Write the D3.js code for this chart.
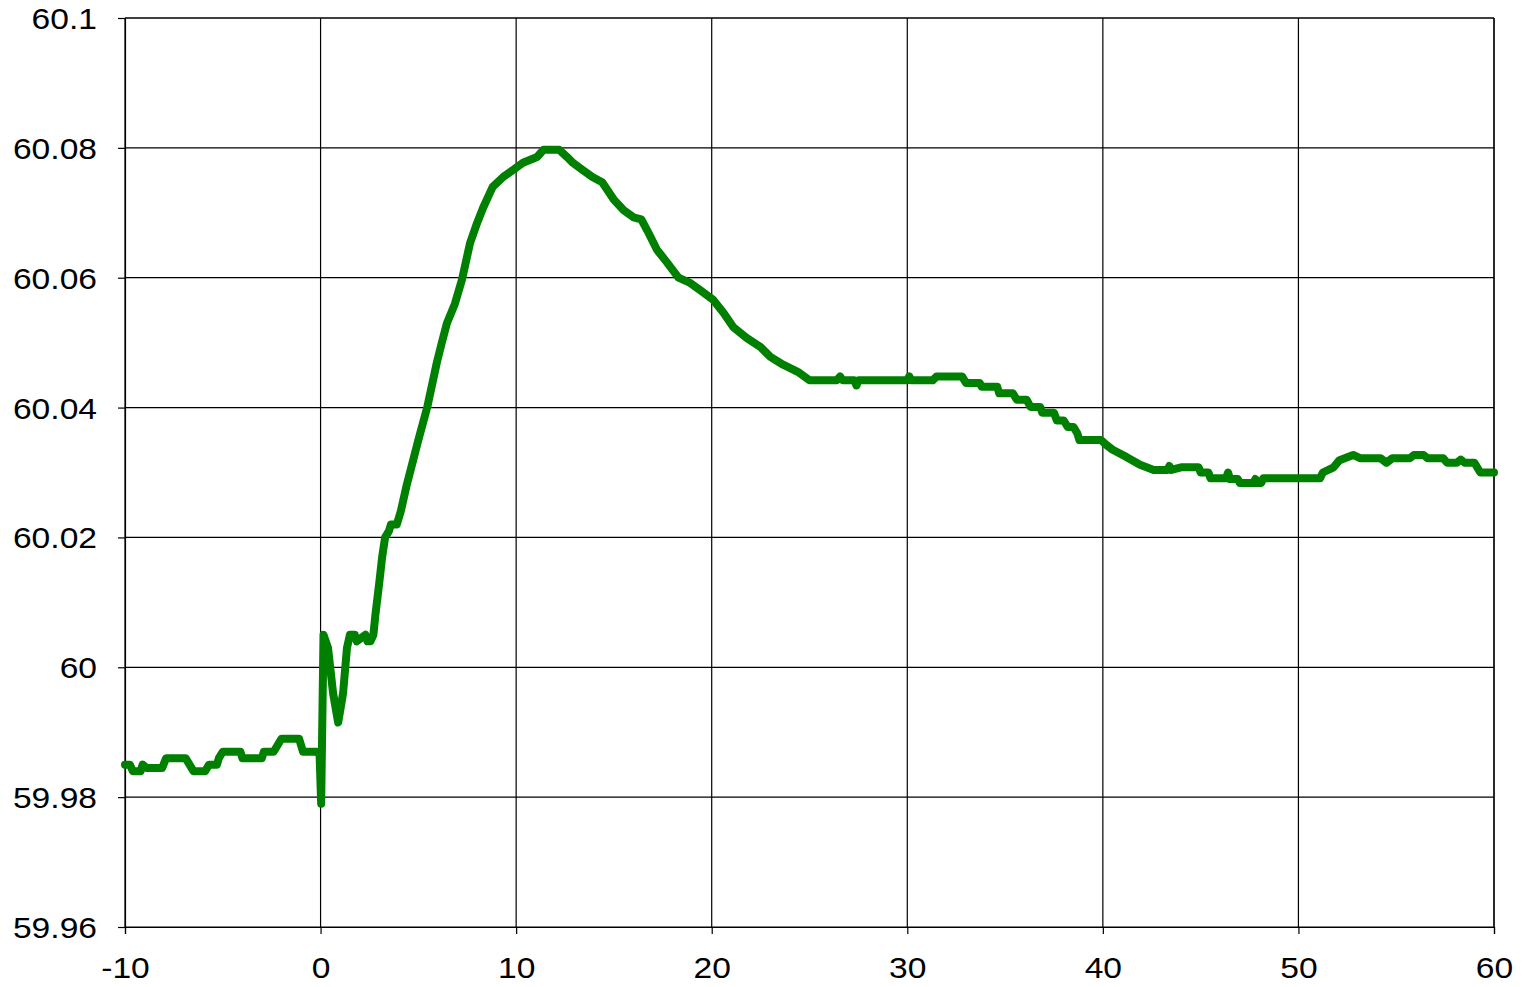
<!DOCTYPE html>
<html>
<head>
<meta charset="utf-8">
<script src="https://cdn.jsdelivr.net/npm/d3@7"></script>
<style>
  body { margin: 0; background: #fff; }
  text { font-family: "Liberation Sans", Arial, sans-serif; fill: #000; }
</style>
</head>
<body>
<svg id="chart" width="1526" height="987"></svg>
<script>
// tick values
const xTicks = [-10, 0, 10, 20, 30, 40, 50, 60];
const yTicks = [59.96, 59.98, 60, 60.02, 60.04, 60.06, 60.08, 60.1];

// time (s) and frequency (Hz)
const time = [
  -10, -9.75, -9.6, -9.2, -9.1, -8.9, -8.1, -7.9, -6.9, -6.7, -6.5, -5.9, -5.7, -5.3, -5.2, -5.0,
  -4.1, -4.0, -3.0, -2.9, -2.4, -2.2, -2.0, -1.1, -0.9, -0.2, -0.05, 0.03, 0.15, 0.38, 0.64, 0.9,
  1.15, 1.35, 1.5, 1.75, 1.85, 2.3, 2.4, 2.55, 2.7, 2.8, 3.0, 3.15, 3.3, 3.5, 3.6, 3.9, 4.1, 4.4,
  4.7, 5.0, 5.45, 5.95, 6.2, 6.46, 6.87, 7.23, 7.64, 8.0, 8.3, 8.8, 9.33, 9.84, 10.35, 11.07, 11.4,
  12.2, 12.6, 12.9, 13.4, 13.9, 14.4, 15.0, 15.5, 16.0, 16.4, 16.7, 17.2, 17.7, 18.3, 18.9, 19.4,
  20.07, 20.6, 21.1, 21.8, 22.5, 23.0, 23.65, 24.4, 25.0, 26.4, 26.56, 26.7, 27.3, 27.4, 27.5, 30.0,
  30.1, 30.2, 31.3, 31.5, 32.8, 33.0, 33.7, 33.8, 34.6, 34.7, 35.4, 35.6, 36.1, 36.3, 36.8, 36.9,
  37.5, 37.65, 38.0, 38.2, 38.5, 38.7, 38.8, 39.9, 40.2, 40.5, 41.2, 41.9, 42.6, 43.3, 43.4, 43.5,
  44.0, 44.9, 45.0, 45.4, 45.5, 46.3, 46.4, 46.5, 46.9, 47.0, 47.7, 47.8, 47.9, 48.1, 48.2, 51.1,
  51.25, 51.8, 52.1, 52.8, 53.15, 54.2, 54.5, 54.8, 55.7, 55.9, 56.4, 56.6, 57.4, 57.6, 58.1, 58.3,
  58.5, 59.0, 59.3, 60
];
const freq = [
  59.985, 59.985, 59.984, 59.984, 59.985, 59.9845, 59.9845, 59.986, 59.986, 59.985, 59.984, 59.984, 59.985, 59.985, 59.986, 59.987,
  59.987, 59.986, 59.986, 59.987, 59.987, 59.988, 59.989, 59.989, 59.987, 59.987, 59.9865, 59.979, 60.005, 60.003, 59.996, 59.9915,
  59.996, 60.003, 60.005, 60.005, 60.004, 60.005, 60.004, 60.004, 60.005, 60.008, 60.013, 60.017, 60.020, 60.021, 60.022, 60.022, 60.024, 60.028,
  60.0315, 60.035, 60.040, 60.047, 60.050, 60.053, 60.056, 60.0597, 60.0653, 60.0684, 60.0707, 60.074, 60.0755, 60.0766, 60.0777, 60.0786, 60.0797,
  60.0797, 60.0786, 60.0777, 60.0766, 60.0755, 60.0747, 60.072, 60.0704, 60.0693, 60.069, 60.0673, 60.0643, 60.0624, 60.060, 60.0592, 60.0581,
  60.0566, 60.0546, 60.0524, 60.0507, 60.0493, 60.0478, 60.0466, 60.0455, 60.0442, 60.0442, 60.0448, 60.0442, 60.0442, 60.0434, 60.0442, 60.0442,
  60.0448, 60.0442, 60.0442, 60.0448, 60.0448, 60.0438, 60.0438, 60.0432, 60.0432, 60.0422, 60.0422, 60.0412, 60.0412, 60.0401, 60.0401, 60.0392,
  60.0392, 60.038, 60.038, 60.037, 60.037, 60.036, 60.035, 60.035, 60.0342, 60.0335, 60.0324, 60.0312, 60.0304, 60.0304, 60.031, 60.0304,
  60.0308, 60.0308, 60.030, 60.030, 60.0291, 60.0291, 60.030, 60.029, 60.029, 60.0284, 60.0284, 60.029, 60.0284, 60.0284, 60.0291, 60.0291,
  60.030, 60.0308, 60.0319, 60.0327, 60.0322, 60.0322, 60.0315, 60.0322, 60.0322, 60.0327, 60.0327, 60.0322, 60.0322, 60.0315, 60.0315, 60.032,
  60.0315, 60.0315, 60.030, 60.030
];

const data = time.map((t, i) => ({ t: t, f: freq[i] }));

const plotL = 125, plotR = 1494, plotT = 18, plotB = 927;
const svg = d3.select('#chart');

const x = d3.scaleLinear().domain([-10, 60]).range([plotL, plotR]);
const y = d3.scaleLinear().domain([59.96, 60.1]).range([plotB, plotT]);

// grid
svg.append('g')
  .selectAll('line')
  .data(xTicks)
  .enter().append('line')
  .attr('x1', d => x(d)).attr('x2', d => x(d))
  .attr('y1', plotT).attr('y2', plotB)
  .attr('stroke', '#000').attr('stroke-width', 1.2);

svg.append('g')
  .selectAll('line')
  .data(yTicks)
  .enter().append('line')
  .attr('x1', plotL).attr('x2', plotR)
  .attr('y1', d => y(d)).attr('y2', d => y(d))
  .attr('stroke', '#000').attr('stroke-width', 1.2);

// axes
const yAxis = d3.axisLeft(y).tickValues(yTicks).tickSize(7).tickFormat(d => +d.toFixed(2) + '');
const xAxis = d3.axisBottom(x).tickValues(xTicks).tickSize(7).tickFormat(d => d + '');

const gy = svg.append('g').attr('transform', `translate(${plotL},0)`).call(yAxis);
const gx = svg.append('g').attr('transform', `translate(0,${plotB})`).call(xAxis);

[gx, gy].forEach(g => {
  g.select('.domain').attr('stroke', '#000').attr('stroke-width', 1.2);
  g.selectAll('.tick line').attr('stroke', '#000').attr('stroke-width', 1.2);
  g.selectAll('.tick text').remove();
});

// labels are a bit wider than plain Arial, so stretch them
gy.selectAll('.tick').append('text')
  .attr('text-anchor', 'end')
  .attr('font-size', 30)
  .attr('transform', 'translate(-28,10.5) scale(1.12,1)')
  .text(d => +d.toFixed(2) + '');

gx.selectAll('.tick').append('text')
  .attr('text-anchor', 'middle')
  .attr('font-size', 30)
  .attr('transform', 'translate(0,51) scale(1.12,1)')
  .text(d => d);

// frame top / right
svg.append('line').attr('x1', plotL).attr('x2', plotR).attr('y1', plotT).attr('y2', plotT)
  .attr('stroke', '#000').attr('stroke-width', 1.2);
svg.append('line').attr('x1', plotR).attr('x2', plotR).attr('y1', plotT).attr('y2', plotB)
  .attr('stroke', '#000').attr('stroke-width', 1.2);

// trace
const line = d3.line().x(d => x(d.t)).y(d => y(d.f));
svg.append('path')
  .datum(data)
  .attr('d', line)
  .attr('fill', 'none')
  .attr('stroke', '#008000')
  .attr('stroke-width', 8)
  .attr('stroke-linejoin', 'round')
  .attr('stroke-linecap', 'round');
</script>
</body>
</html>
